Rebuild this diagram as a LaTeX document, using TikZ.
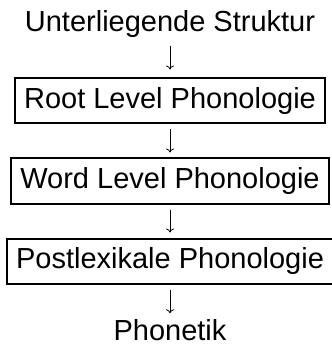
\documentclass[tikz,border=0pt]{standalone}
\usepackage{fontspec}
\setmainfont{Liberation Sans}
\usetikzlibrary{arrows.meta}
\begin{document}
\begin{tikzpicture}[x=1pt,y=-1pt,
  lbl/.style={font=\fontsize{29}{33}\selectfont, inner sep=0pt},
  boxed/.style={lbl, draw, line width=2pt, inner xsep=9pt, inner ysep=9pt, text height=21pt, text depth=6pt},
  flow/.style={line width=0.8pt, -{To[length=4pt,width=8pt]}}
]
\useasboundingbox (0,0) rectangle (331,347);
\node[lbl, anchor=base] (u) at (170,32) {Unterliegende Struktur};
\node[boxed] (r) at (170,101) {Root Level Phonologie};
\node[boxed] (w) at (170,181) {Word Level Phonologie};
\node[boxed] (p) at (170,261) {Postlexikale Phonologie};
\node[lbl, anchor=base] (ph) at (170,340) {Phonetik};
\draw[flow, shorten <=8pt, shorten >=8pt] (u) -- (r);
\draw[flow, shorten <=5pt, shorten >=5pt] (r) -- (w);
\draw[flow, shorten <=5pt, shorten >=5pt] (w) -- (p);
\draw[flow, shorten <=5.5pt, shorten >=5.5pt] (p) -- (ph);
\end{tikzpicture}
\end{document}
